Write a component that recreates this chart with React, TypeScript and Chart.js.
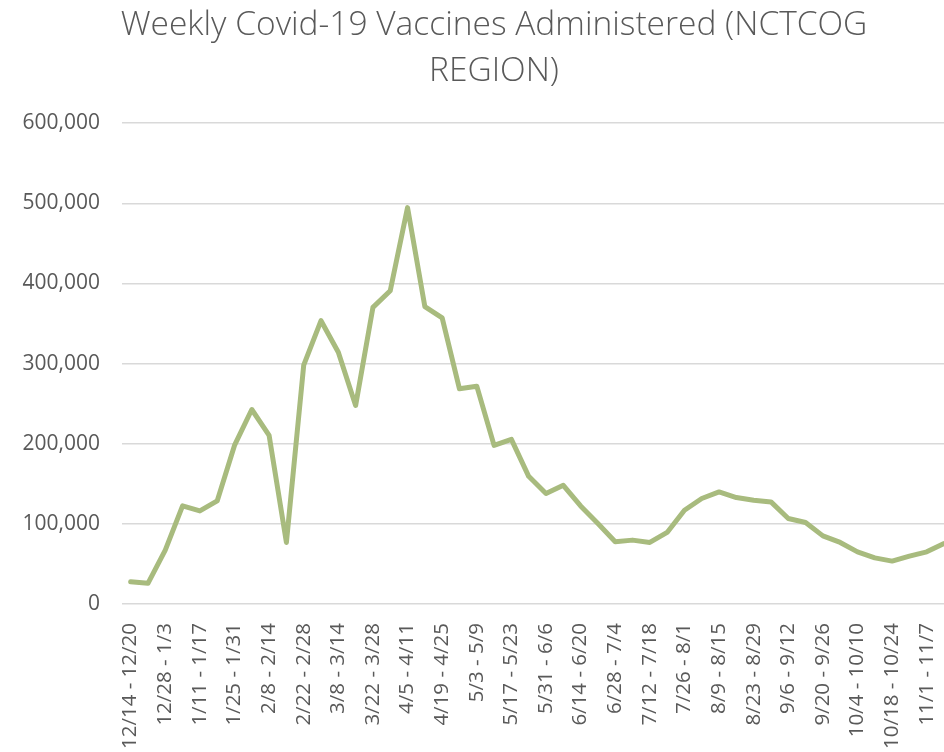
import React, { useEffect, useRef } from "react";
import { Chart, registerables } from "chart.js";

Chart.register(...registerables);

const titleLines = ["Weekly Covid-19 Vaccines Administered (NCTCOG", "REGION)"];

const weeks = [
  "12/14 - 12/20", "12/21 - 12/27", "12/28 - 1/3", "1/4 - 1/10", "1/11 - 1/17", "1/18 - 1/24",
  "1/25 - 1/31", "2/1 - 2/7", "2/8 - 2/14", "2/15 - 2/21", "2/22 - 2/28", "3/1 - 3/7",
  "3/8 - 3/14", "3/15 - 3/21", "3/22 - 3/28", "3/29 - 4/4", "4/5 - 4/11", "4/12 - 4/18",
  "4/19 - 4/25", "4/26 - 5/2", "5/3 - 5/9", "5/10 - 5/16", "5/17 - 5/23", "5/24 - 5/30",
  "5/31 - 6/6", "6/7 - 6/13", "6/14 - 6/20", "6/21 - 6/27", "6/28 - 7/4", "7/5 - 7/11",
  "7/12 - 7/18", "7/19 - 7/25", "7/26 - 8/1", "8/2 - 8/8", "8/9 - 8/15", "8/16 - 8/22",
  "8/23 - 8/29", "8/30 - 9/5", "9/6 - 9/12", "9/13 - 9/19", "9/20 - 9/26", "9/27 - 10/3",
  "10/4 - 10/10", "10/11 - 10/17", "10/18 - 10/24", "10/25 - 10/31", "11/1 - 11/7", "11/8 - 11/14",
];

const vaccines = [
  27800, 25800, 67200, 122400, 116100, 128600,
  197900, 242700, 210400, 76800, 298000, 353500,
  314100, 247700, 370100, 390900, 494600, 371000,
  356900, 268500, 271800, 197900, 205400, 159300,
  137800, 148100, 122400, 100400, 77600, 79700,
  76800, 89300, 117000, 131600, 139800, 132800,
  129500, 127400, 106700, 101700, 85000, 76800,
  65100, 57600, 53500, 59800, 65100, 75500,
];

const yMin = 0;
const yMax = 600000;
const yStep = 100000;

const TEXT = "#595959";
const GRID = "#d9d9d9";
const LINE = "#a8bb7e";

export default function App() {
  const ref = useRef<HTMLCanvasElement>(null);

  useEffect(() => {
    if (!ref.current) return;
    const chart = new Chart(ref.current, {
      type: "line",
      data: {
        labels: weeks,
        datasets: [
          {
            label: "Vaccines",
            data: vaccines,
            borderColor: LINE,
            backgroundColor: LINE,
            borderWidth: 5,
            pointRadius: 0,
            pointHoverRadius: 0,
            tension: 0,
            borderJoinStyle: "round",
            borderCapStyle: "round",
            yAxisID: "y",
          },
        ],
      },
      options: {
        animation: false,
        responsive: true,
        maintainAspectRatio: false,
        layout: { padding: { left: 0, right: 0, top: 0, bottom: 0 } },
        plugins: {
          legend: { display: false },
          tooltip: { enabled: false },
          title: {
            display: true,
            text: titleLines,
            color: TEXT,
            font: { family: "'Open Sans'", size: 33.5, weight: "300", lineHeight: 1.375 },
            padding: { top: 2, bottom: 29 },
          },
        },
        scales: {
          x: {
            type: "category",
            offset: true,
            grid: { display: false, drawTicks: false },
            border: { display: false },
            ticks: {
              autoSkip: false,
              minRotation: 90,
              maxRotation: 90,
              padding: 19,
              color: TEXT,
              font: { family: "'Open Sans'", size: 20.5 },
              callback: (_v: any, i: number) => (i % 2 === 0 ? weeks[i] : ""),
            },
            afterFit: (s: any) => {
              s.height = 148;
            },
          },
          y: {
            type: "linear",
            position: "left",
            min: yMin,
            max: yMax,
            grid: { color: GRID, lineWidth: 1.5, drawTicks: false },
            border: { display: false },
            ticks: {
              stepSize: yStep,
              padding: 22,
              color: TEXT,
              font: { family: "'Open Sans'", size: 21 },
              callback: (v: any) => Number(v).toLocaleString("en-US"),
            },
            afterFit: (s: any) => {
              s.width = 122;
            },
          },
          y2: {
            type: "linear",
            position: "right",
            display: true,
            grid: { display: false, drawTicks: false },
            border: { display: false },
            ticks: { display: false },
            afterFit: (s: any) => {
              s.width = 35;
            },
          },
        },
      },
    });
    return () => chart.destroy();
  }, []);

  return (
    <div style={{ position: "fixed", left: 0, top: 0, width: 944, height: 752, overflow: "hidden", background: "#fff" }}>
      <div style={{ position: "relative", width: 988, height: 752 }}>
        <canvas ref={ref} />
      </div>
    </div>
  );
}
